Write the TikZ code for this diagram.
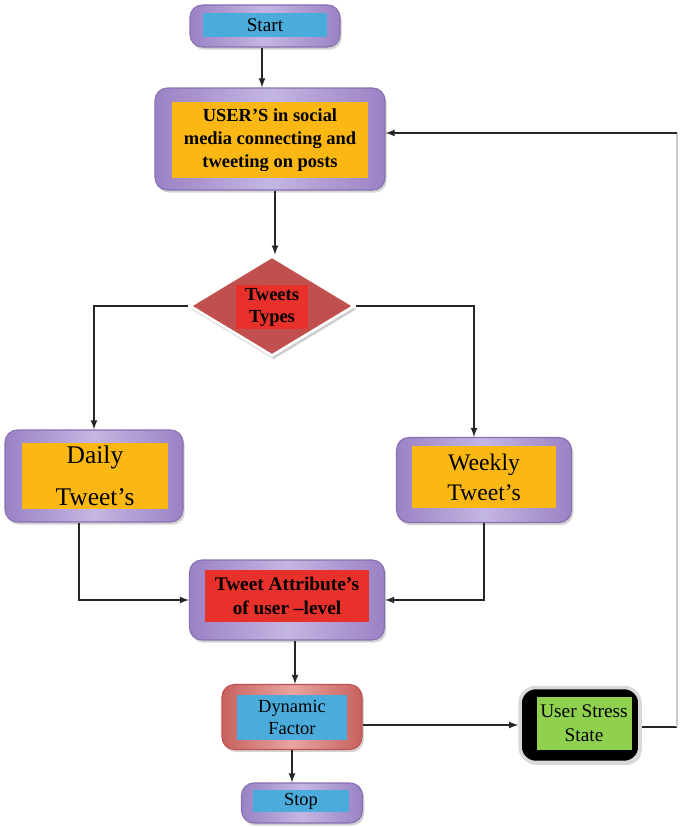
\documentclass[tikz,border=0pt]{standalone}
\usepackage{fontspec}
\setmainfont{Liberation Serif}
\usetikzlibrary{shapes.geometric,shadows}

\definecolor{purplight}{HTML}{C4B6E2}
\definecolor{purpdark}{HTML}{9A82C4}
\definecolor{purpedge}{HTML}{8670B0}
\definecolor{skyblue}{HTML}{4BACDC}
\definecolor{amber}{HTML}{FBB814}
\definecolor{tomato}{HTML}{E8312A}
\definecolor{brick}{HTML}{C0504D}
\definecolor{rosy}{HTML}{E8A4A2}
\definecolor{lime}{HTML}{8FD14F}

\tikzset{
  >=latex,
  frame/.style={rounded corners=7pt, draw=purpedge, line width=0.6pt,
    left color=purpdark, right color=purpdark, middle color=purplight,
    drop shadow={opacity=0.35, shadow xshift=1pt, shadow yshift=-1.5pt}},
  label/.style={inner sep=0pt, align=center, text=black},
  flow/.style={->, line width=0.8pt, draw=black!85},
}

\begin{document}
\begin{tikzpicture}[x=0.02cm, y=-0.02cm]

        \useasboundingbox (0,0) rectangle (679,827);

        %Start
        \node (start) [frame, minimum width=3cm, minimum height=0.84cm] at (265,26) {};
        \node [label, fill=skyblue, minimum width=2.48cm, minimum height=0.48cm,
               font=\fontsize{11}{13}\selectfont] at (265,25) {Start};

        %Users
        \node (user) [frame, minimum width=4.6cm, minimum height=2.04cm] at (270,139) {};
        \node [label, fill=amber, minimum width=3.92cm, minimum height=1.52cm,
               font=\fontsize{10.5}{13}\selectfont\bfseries] at (270,140)
              {USER’S in social\\media connecting and\\tweeting on posts};

        %Tweet types
        \node (types) [diamond, aspect=1.65, fill=brick, draw=white, line width=1.5pt,
               minimum width=3.3cm, minimum height=2cm,
               drop shadow={opacity=0.4, shadow xshift=1pt, shadow yshift=-2pt}] at (272,306) {};
        \node [label, fill=tomato, minimum width=1.45cm, minimum height=0.9cm,
               font=\fontsize{10.5}{12.5}\selectfont\bfseries] at (272,307) {Tweets\\Types};

        %Daily
        \node (daily) [frame, minimum width=3.56cm, minimum height=1.84cm] at (94,476) {};
        \node [label, fill=amber, minimum width=2.92cm, minimum height=1.34cm,
               font=\fontsize{14.5}{17}\selectfont] at (95,476) {Daily\\[7pt]Tweet’s};

        %Weekly
        \node (weekly) [frame, minimum width=3.5cm, minimum height=1.7cm] at (484,480) {};
        \node [label, fill=amber, minimum width=2.9cm, minimum height=1.24cm,
               font=\fontsize{13.5}{17}\selectfont] at (484,477) {Weekly\\Tweet’s};

        %Attributes
        \node (attr) [frame, minimum width=3.9cm, minimum height=1.6cm] at (287,600) {};
        \node [label, fill=tomato, minimum width=3.3cm, minimum height=1.04cm,
               font=\fontsize{11}{14}\selectfont\bfseries] at (287,596)
              {Tweet Attribute’s\\of user –level};

        %Dynamic factor
        \node (dyn) [frame, draw=brick, left color=brick!90, right color=brick!90,
               middle color=rosy, minimum width=2.8cm, minimum height=1.3cm] at (292,717) {};
        \node [label, fill=skyblue, minimum width=2.22cm, minimum height=0.9cm,
               font=\fontsize{10.5}{12.5}\selectfont] at (292,717) {Dynamic\\Factor};

        %Stress state
        \node (uss) [rounded corners=9pt, fill=black, draw=black!15, line width=2pt,
               minimum width=2.4cm, minimum height=1.5cm,
               drop shadow={opacity=0.3, shadow xshift=1pt, shadow yshift=-1.5pt}] at (580,725) {};
        \node [label, fill=lime, minimum width=1.9cm, minimum height=1.06cm,
               font=\fontsize{11}{14}\selectfont] at (584,723) {User Stress\\State};

        %Stop
        \node (stop) [frame, minimum width=2.42cm, minimum height=0.8cm] at (302,803) {};
        \node [label, fill=skyblue, minimum width=1.94cm, minimum height=0.44cm,
               font=\fontsize{10.5}{12}\selectfont] at (301,801) {Stop};

        %Arrows
        \draw [flow] ([xshift=-0.06cm]start.south) -- ([xshift=-0.06cm]start.south |- user.north);
        \draw [flow] ([xshift=0.1cm]user.south) -- ([xshift=0.1cm]user.south |- types.north);
        \draw [flow] (types.west) -| (daily.north);
        \draw [flow] (types.east) -| ([xshift=-0.2cm]weekly.north);
        \draw [flow] ([xshift=-0.3cm]daily.south) |- (attr.west);
        \draw [flow] (weekly.south) |- (attr.east);
        \draw [flow] ([xshift=0.16cm]attr.south) -- ([xshift=0.16cm]attr.south |- dyn.north);
        \draw [flow] (dyn.east |- uss.west) -- (uss.west);
        \draw [flow] (dyn.south) -- (dyn.south |- stop.north);

        %Feedback
        \coordinate (back) at (677,727);
        \coordinate (top) at (677,133);
        \draw [line width=0.8pt, black!85] (uss.east |- back) -- (back);
        \draw [line width=0.6pt, black!20] (back) -- (top);
        \draw [flow] (top) -- (top -| user.east);

\end{tikzpicture}
\end{document}
